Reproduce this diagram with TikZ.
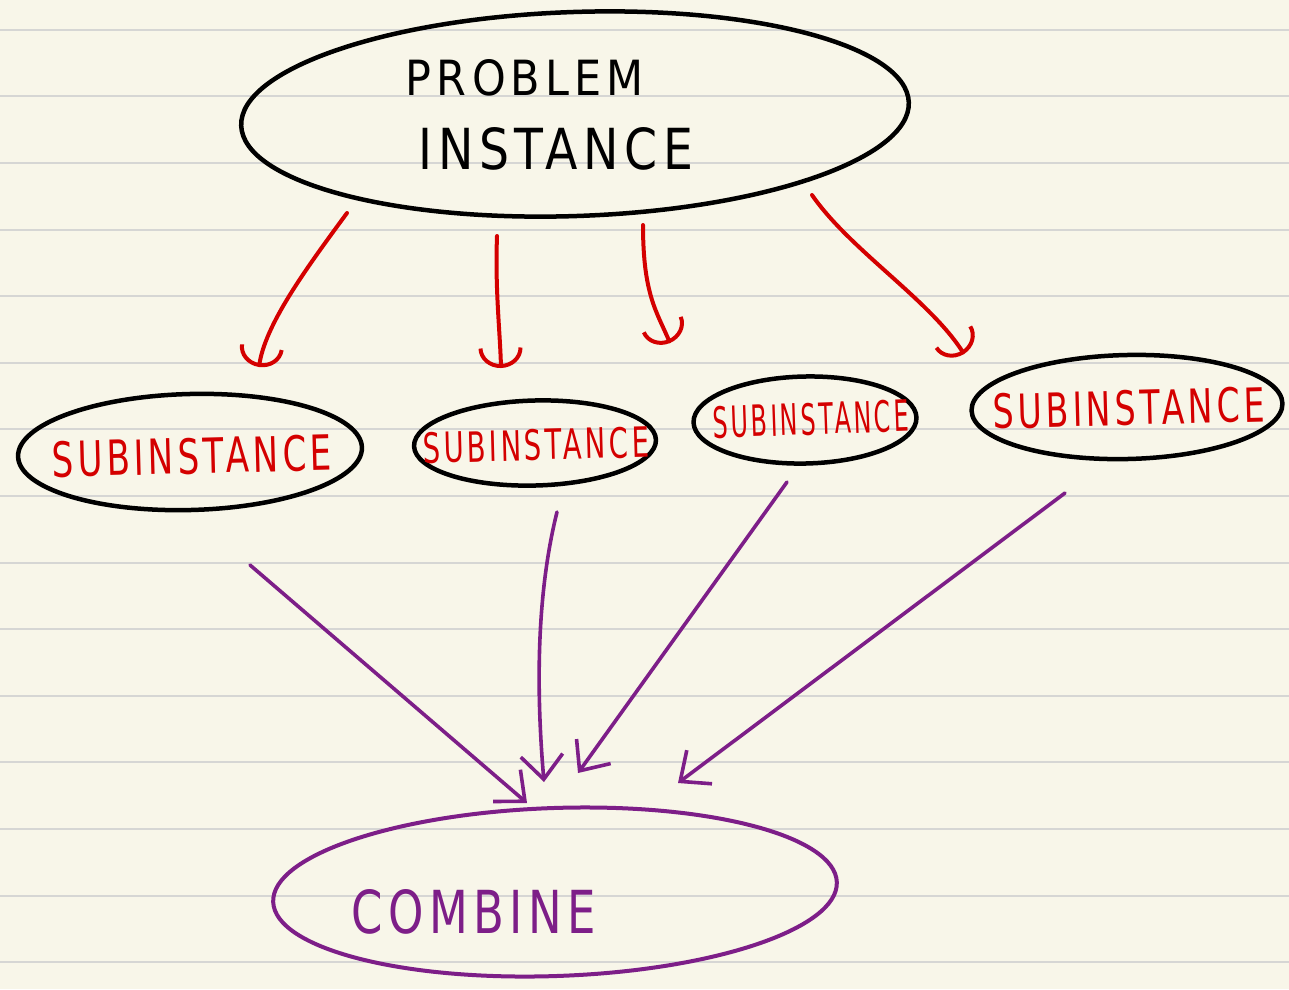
\documentclass[tikz,border=0pt]{standalone}
\usepackage{fontspec}
\usetikzlibrary{arrows.meta,shapes.geometric}
\newfontfamily\handfont[LetterSpace=12]{DejaVu Sans}
\definecolor{paper}{HTML}{F8F6E9}
\definecolor{ruleline}{HTML}{D6D6D4}
\definecolor{redink}{HTML}{D40000}
\definecolor{purpleink}{HTML}{7D1E88}
\newcommand{\handtext}[3]{\resizebox{#1pt}{#2pt}{\handfont #3}}
\begin{document}
\begin{tikzpicture}[x=1pt,y=-1pt,
  bubble/.style={ellipse, draw=black, line width=4.5pt, inner sep=0pt, fill=none},
  combbubble/.style={bubble, draw=purpleink, line width=4pt},
  txt/.style={inner sep=0pt},
  redarrow/.style={draw=redink, line width=4pt, line cap=round, -{Arc Barb[length=20pt,width=44pt]}},
  purplearrow/.style={draw=purpleink, line width=3.6pt, line cap=round, -{Straight Barb[length=24pt,width=42pt]}}
]
\useasboundingbox (0,0) rectangle (1289,989);
\fill[paper] (0,0) rectangle (1289,989);
\foreach \k in {0,...,14} \draw[ruleline, line width=2pt] (0,{29.7+66.6*\k}) -- (1289,{29.7+66.6*\k});

% ellipses
\node[bubble, minimum width=668pt, minimum height=204pt, rotate=2] (prob) at (575,114) {};
\node[bubble, minimum width=344pt, minimum height=116pt, rotate=1.5] (sub1) at (190,452) {};
\node[bubble, minimum width=242pt, minimum height=85pt, rotate=1.5] (sub2) at (535,443) {};
\node[bubble, minimum width=223pt, minimum height=87pt, rotate=1.2] (sub3) at (805,420) {};
\node[bubble, minimum width=311pt, minimum height=104pt, rotate=1.3] (sub4) at (1127,407) {};
\node[combbubble, minimum width=564pt, minimum height=168pt, rotate=2] (comb) at (555,892) {};

% texts
\node[txt] (probtxt1) at (525,78) {\handtext{238}{36}{PROBLEM}};
\node[txt] (probtxt2) at (556,149) {\handtext{275}{42}{INSTANCE}};
\node[txt, text=redink, rotate=1.5] (sub1txt) at (192,456) {\handtext{280}{36}{SUBINSTANCE}};
\node[txt, text=redink, rotate=1.5] (sub2txt) at (536,445) {\handtext{226}{31}{SUBINSTANCE}};
\node[txt, text=redink, rotate=2] (sub3txt) at (811,419) {\handtext{196}{32}{SUBINSTANCE}};
\node[txt, text=redink, rotate=1.5] (sub4txt) at (1129,408) {\handtext{272}{35}{SUBINSTANCE}};
\node[txt, text=purpleink] (combtxt) at (474,912) {\handtext{244}{44}{COMBINE}};

% connector end points
\coordinate (r1s) at (347,213); \coordinate (r1e) at (259,367);
\coordinate (r2s) at (497,236); \coordinate (r2e) at (501,368);
\coordinate (r3s) at (643,225); \coordinate (r3e) at (670,343);
\coordinate (r4s) at (812,195); \coordinate (r4e) at (964,354);
\coordinate (p1s) at (250,565); \coordinate (p1e) at (527,803);
\coordinate (p2s) at (557,512); \coordinate (p2e) at (544,782);
\coordinate (p3s) at (787,482); \coordinate (p3e) at (578,773);
\coordinate (p4s) at (1065,493); \coordinate (p4e) at (678,783);

% red arrows
\draw[redarrow] (r1s) .. controls (305,270) and (265,325) .. (r1e);
\draw[redarrow] (r2s) .. controls (495,290) and (500,330) .. (r2e);
\draw[redarrow] (r3s) .. controls (643,295) and (657,312) .. (r3e);
\draw[redarrow] (r4s) .. controls (850,250) and (930,300) .. (r4e);

% purple arrows
\draw[purplearrow] (p1s) -- (p1e);
\draw[purplearrow] (p2s) .. controls (535,600) and (537,700) .. (p2e);
\draw[purplearrow] (p3s) -- (p3e);
\draw[purplearrow] (p4s) -- (p4e);
\end{tikzpicture}
\end{document}
